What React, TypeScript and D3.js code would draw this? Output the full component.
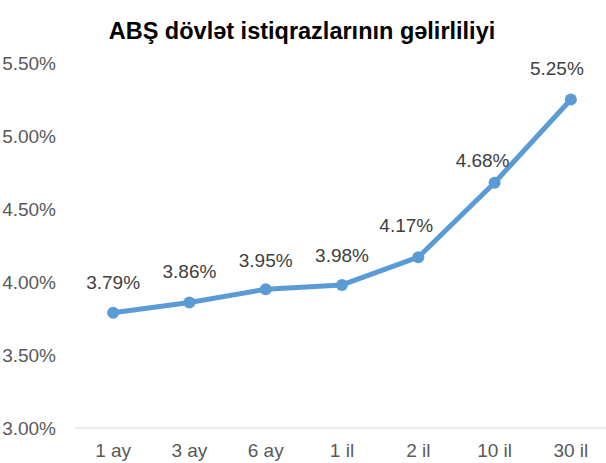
import React, { useEffect, useRef } from "react";
import * as d3 from "d3";

const categories = ["1 ay", "3 ay", "6 ay", "1 il", "2 il", "10 il", "30 il"];
const yields = [3.79, 3.86, 3.95, 3.98, 4.17, 4.68, 5.25];
const yTicks = [3.0, 3.5, 4.0, 4.5, 5.0, 5.5];
const title = "ABŞ dövlət istiqrazlarının gəlirliliyi";

// hand-placed data label nudges (dx, dy from the marker)
const labelNudge: [number, number][] = [
  [0, -24], [0, -24], [0, -22], [0, -23], [-12, -25], [-12, -16], [-14, -25],
];

const W = 606;
const H = 463;

export default function App() {
  const ref = useRef<SVGSVGElement>(null);

  useEffect(() => {
    const svg = d3.select(ref.current);
    svg.selectAll("*").remove();

    const font = "'Liberation Sans', Arial, sans-serif";
    const x = d3.scalePoint<string>().domain(categories).range([75, 609]).padding(0.5);
    const y = d3.scaleLinear().domain([3.0, 5.5]).range([428, 63]);

    svg.append("text")
      .attr("x", 302)
      .attr("y", 39)
      .attr("text-anchor", "middle")
      .attr("font-family", font)
      .attr("font-weight", "bold")
      .attr("font-size", 23.5)
      .attr("fill", "#000")
      .text(title);

    // y tick labels
    svg.append("g")
      .selectAll("text")
      .data(yTicks)
      .enter().append("text")
      .attr("x", 56)
      .attr("y", (d) => y(d) + 7)
      .attr("text-anchor", "end")
      .attr("font-family", font)
      .attr("font-size", 19)
      .attr("fill", "#595959")
      .text((d) => d.toFixed(2) + "%");

    // x axis baseline
    svg.append("line")
      .attr("x1", 75).attr("x2", 606)
      .attr("y1", y(3.0)).attr("y2", y(3.0))
      .attr("stroke", "#d9d9d9")
      .attr("stroke-width", 1);

    svg.append("g")
      .selectAll("text")
      .data(categories)
      .enter().append("text")
      .attr("x", (d) => x(d)!)
      .attr("y", 457)
      .attr("text-anchor", "middle")
      .attr("font-family", font)
      .attr("font-size", 19)
      .attr("fill", "#595959")
      .text((d) => d);

    const line = d3.line<number>()
      .x((d, i) => x(categories[i])!)
      .y((d) => y(d));

    svg.append("path")
      .datum(yields)
      .attr("d", line)
      .attr("fill", "none")
      .attr("stroke", "#5b9bd5")
      .attr("stroke-width", 5)
      .attr("stroke-linejoin", "round")
      .attr("stroke-linecap", "round");

    svg.append("g")
      .selectAll("circle")
      .data(yields)
      .enter().append("circle")
      .attr("cx", (d, i) => x(categories[i])!)
      .attr("cy", (d) => y(d))
      .attr("r", 6)
      .attr("fill", "#5b9bd5");

    svg.append("g")
      .selectAll("text")
      .data(yields)
      .enter().append("text")
      .attr("x", (d, i) => x(categories[i])! + labelNudge[i][0])
      .attr("y", (d, i) => y(d) + labelNudge[i][1])
      .attr("text-anchor", "middle")
      .attr("font-family", font)
      .attr("font-size", 19)
      .attr("fill", "#404040")
      .text((d) => d.toFixed(2) + "%");
  }, []);

  return (
    <svg ref={ref} width={W} height={H}
         style={{ position: "absolute", left: 0, top: 0, background: "#fff" }}>
    </svg>
  );
}
